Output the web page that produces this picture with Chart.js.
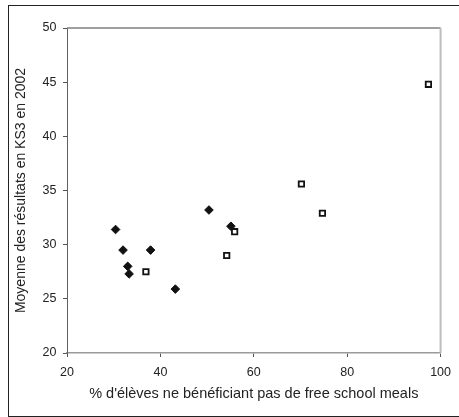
<!DOCTYPE html>
<html>
<head>
<meta charset="utf-8">
<script src="https://cdn.jsdelivr.net/npm/chart.js@4/dist/chart.umd.min.js"></script>
<style>
  html, body { margin: 0; padding: 0; background: #fff; }
  #wrap { position: relative; width: 459px; height: 417px; overflow: hidden; }
  #frame {
    position: absolute; left: 8px; top: 5px; width: 470px; height: 412px;
    box-sizing: border-box; border: 1.5px solid #222; pointer-events: none;
  }
</style>
</head>
<body>
<div id="wrap">
  <canvas id="scatterChart" width="459" height="417"></canvas>
  <div id="frame"></div>
</div>
<script>
// two groups of schools: filled diamonds and open squares
const groupAx = [30.4, 32.0, 33.0, 33.3, 37.9, 43.2, 50.4, 55.1];
const groupAy = [31.4, 29.5, 28.0, 27.3, 29.5, 25.9, 33.2, 31.7];
const groupBx = [36.9, 54.2, 55.9, 70.2, 74.7, 97.4];
const groupBy = [27.5, 29.0, 31.2, 35.6, 32.9, 44.8];

const xTitle = "% d'élèves ne bénéficiant pas de free school meals";
const yTitle = 'Moyenne des résultats en KS3 en 2002';

const toPoints = (xs, ys) => xs.map((x, i) => ({ x: x, y: ys[i] }));

const fontFamily = '"Liberation Sans", Arial, Helvetica, sans-serif';

// top and right edges of the plot box
const plotFrame = {
    id: 'plotFrame',
    afterDraw(chart) {
        const { ctx, chartArea: a } = chart;
        ctx.save();
        ctx.strokeStyle = '#808080';
        ctx.lineWidth = 1.5;
        ctx.beginPath();
        ctx.moveTo(a.left, a.top);
        ctx.lineTo(a.right, a.top);
        ctx.stroke();
        ctx.strokeStyle = '#bdbdbd';
        ctx.lineWidth = 2;
        ctx.beginPath();
        ctx.moveTo(a.right, a.top);
        ctx.lineTo(a.right, a.bottom);
        ctx.stroke();
        ctx.restore();
    }
};

const scatterChart = new Chart(
    document.getElementById('scatterChart'),
    {
    type: 'scatter',
    data: {
        datasets: [{
            label: 'A',
            data: toPoints(groupAx, groupAy),
            pointStyle: 'rectRot',
            pointRadius: 4.3,
            pointBackgroundColor: '#111',
            pointBorderColor: '#111',
            pointBorderWidth: 1
        }, {
            label: 'B',
            data: toPoints(groupBx, groupBy),
            pointStyle: 'rect',
            pointRadius: 3.8,
            pointBackgroundColor: '#fff',
            pointBorderColor: '#111',
            pointBorderWidth: 1.8
        }]
    },
    options: {
        responsive: false,
        animation: false,
        layout: {
            padding: { top: 28, right: 18, bottom: 0, left: 0 }
        },
        plugins: {
            legend: { display: false },
            tooltip: { enabled: false }
        },
        scales: {
            x: {
                type: 'linear',
                min: 20,
                max: 100,
                afterFit: (scale) => { scale.height = 64; },
                ticks: {
                    stepSize: 20,
                    padding: 8,
                    color: '#222',
                    font: { family: fontFamily, size: 12.5 }
                },
                grid: { drawOnChartArea: false, tickLength: 4, color: '#555' },
                border: { color: '#9a9a9a', width: 1.5 },
                title: {
                    display: true,
                    text: xTitle,
                    color: '#222',
                    font: { family: fontFamily, size: 14.5 },
                    padding: { top: 0, bottom: 14.5 }
                }
            },
            y: {
                min: 20,
                max: 50,
                afterFit: (scale) => { scale.width = 67; },
                ticks: {
                    stepSize: 5,
                    padding: 6.5,
                    color: '#222',
                    font: { family: fontFamily, size: 12.5 }
                },
                grid: { drawOnChartArea: false, tickLength: 4, color: '#555' },
                border: { color: '#606060', width: 1 },
                title: {
                    display: true,
                    text: yTitle,
                    color: '#222',
                    font: { family: fontFamily, size: 14 },
                    padding: { top: 13, bottom: 0 }
                }
            }
        }
    },
    plugins: [plotFrame]
});
</script>
</body>
</html>
